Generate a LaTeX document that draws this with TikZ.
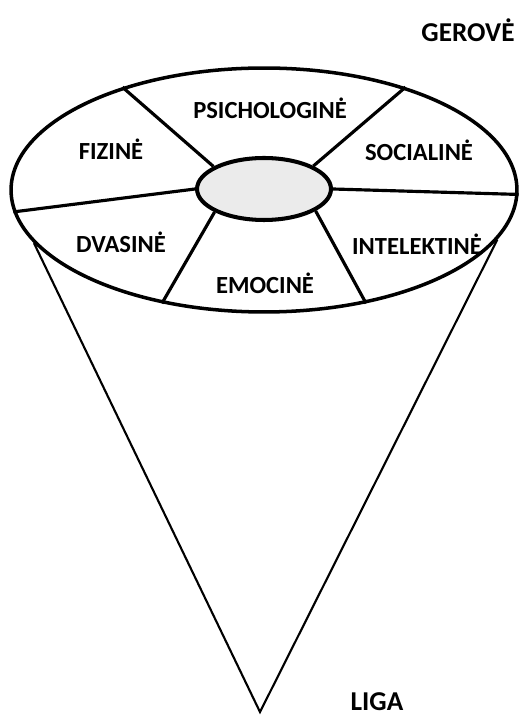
\documentclass[tikz,border=0pt]{standalone}
\usepackage{fontspec}
\setmainfont{Carlito}
\usetikzlibrary{shapes.geometric}

\begin{document}
\begin{tikzpicture}[x=0.02cm,y=-0.02cm,
    font=\fontsize{14}{16}\selectfont\bfseries,
    rim/.style={ellipse,draw,line width=2pt,inner sep=0pt,minimum width=10.12cm,minimum height=4.88cm},
    core/.style={ellipse,draw,line width=2.3pt,fill=black!8,inner sep=0pt,minimum width=2.68cm,minimum height=1.24cm},
    spoke/.style={line width=1.8pt},
    side/.style={line width=1.2pt},
    lbl/.style={inner sep=0pt},
    pole/.style={lbl,font=\fontsize{15.5}{18}\selectfont\bfseries},
  ]
    \useasboundingbox (0,0) rectangle (519,715);
    \node[rim] (rim) at (264,190) {};
    \node[core] (core) at (264,189) {};
    \coordinate (apex) at (260,712);

    \draw[spoke] (core.156) -- (rim.144);
    \draw[spoke] (core.25) -- (rim.36);
    \draw[spoke] (core.0) -- (rim.359);
    \draw[spoke] (core.337) -- (rim.312);
    \draw[spoke] (core.205) -- (rim.228);
    \draw[spoke] (core.180) -- (rim.185);
    \draw[side] (rim.193) -- (apex) -- (rim.348);

    \node[lbl] (psich) at (270,108) {PSICHOLOGINĖ};
    \node[lbl] (fiz) at (111,149) {FIZINĖ};
    \node[lbl] (soc) at (419,150) {SOCIALINĖ};
    \node[lbl] (dvas) at (121,242) {DVASINĖ};
    \node[lbl] (intel) at (417,244) {INTELEKTINĖ};
    \node[lbl] (emoc) at (265,283) {EMOCINĖ};
    \node[pole] (gerove) at (468,30) {GEROVĖ};
    \node[pole,anchor=base] (liga) at (377,710) {LIGA};
  \end{tikzpicture}
\end{document}
